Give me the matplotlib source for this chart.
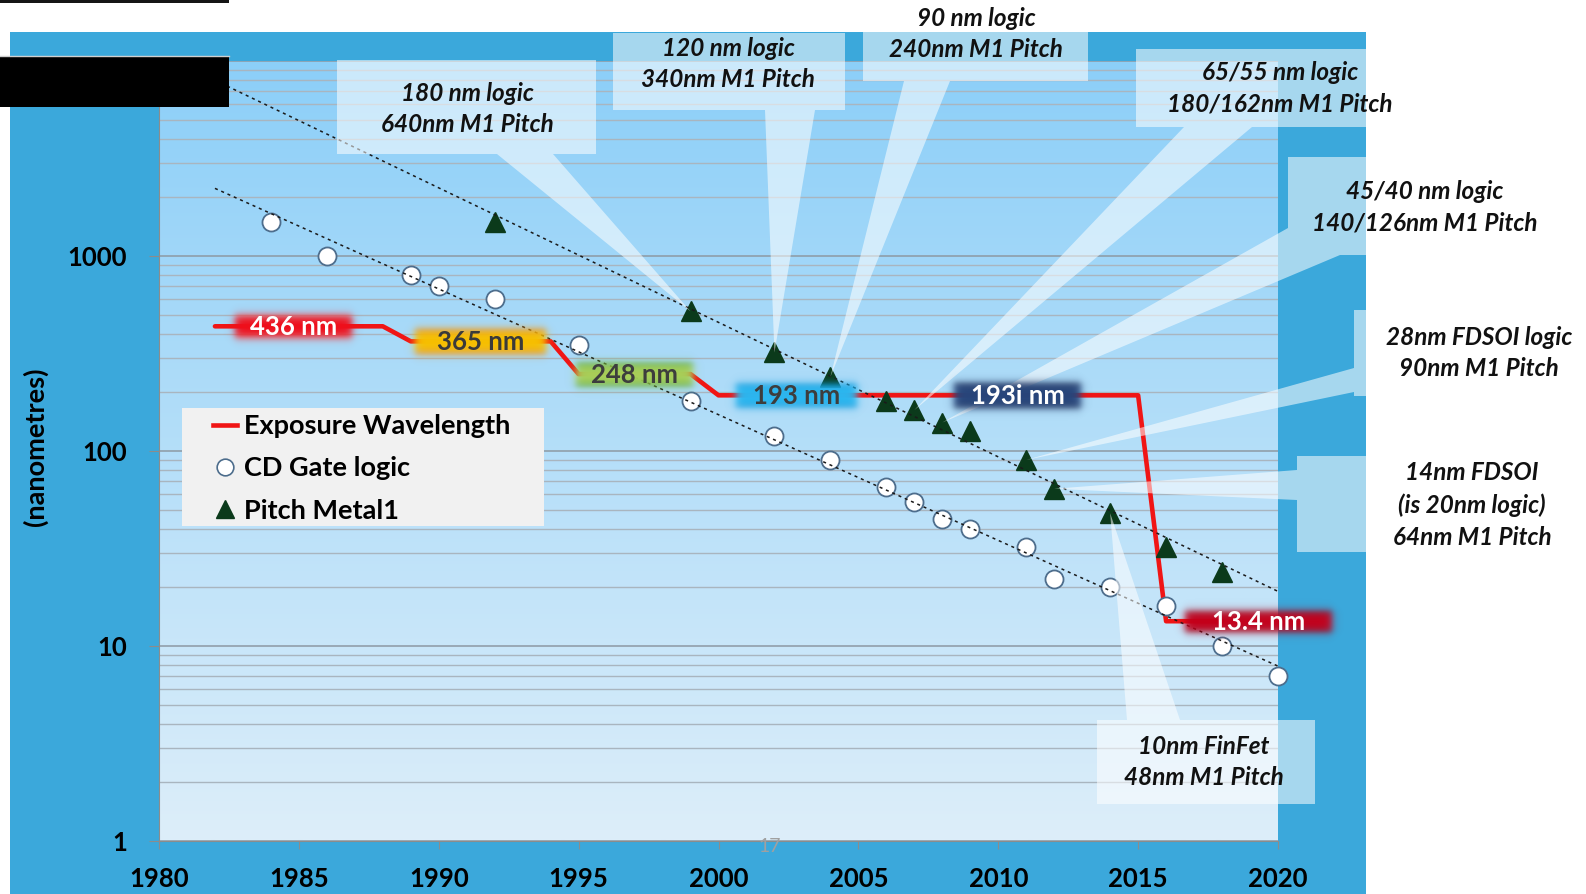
import numpy as np
import matplotlib.pyplot as plt
from matplotlib.patches import Rectangle, Polygon
from matplotlib.lines import Line2D
from matplotlib.colors import to_rgb
from matplotlib.ticker import FixedLocator, LogLocator, NullFormatter

plt.rcParams['font.family'] = ['Lato', 'DejaVu Sans']

W, H = 1586, 894

# exposure wavelength steps (nm)
years_wl = [1982, 1988, 1989, 1994, 1995, 1999, 2000, 2015, 2016, 2018]
wavelength = [436, 436, 365, 365, 248, 248, 193, 193, 13.4, 13.4]

# gate CD of logic nodes (nm)
years_cd = [1984, 1986, 1989, 1990, 1992, 1995, 1999, 2002, 2004, 2006, 2007,
            2008, 2009, 2011, 2012, 2014, 2016, 2018, 2020]
cd_gate = [1500, 1000, 800, 700, 600, 350, 180, 120, 90, 65, 55,
           45, 40, 32, 22, 20, 16, 10, 7]

# metal 1 pitch (nm)
years_m1 = [1992, 1999, 2002, 2004, 2006, 2007, 2008, 2009, 2011, 2012, 2014, 2016, 2018]
pitch_m1 = [1500, 520, 320, 240, 180, 162, 140, 126, 90, 64, 48, 32, 24]

# wavelength tags sitting on the red line
wl_names = ["436 nm", "365 nm", "248 nm", "193 nm", "193i nm", "13.4 nm"]
wl_name_year = [1984.8, 1991.5, 1997.0, 2002.8, 2010.7, 2019.3]
wl_name_value = [436, 365, 248, 193, 193, 13.4]

# node callouts, each pointing at one M1 pitch point
node_text = ["180 nm logic\n640nm M1 Pitch",
             "120 nm logic\n340nm M1 Pitch",
             "90 nm logic\n240nm M1 Pitch",
             "65/55 nm logic\n180/162nm M1 Pitch",
             "45/40 nm logic\n140/126nm M1 Pitch",
             "28nm FDSOI logic\n90nm M1 Pitch",
             "14nm FDSOI\n(is 20nm logic)\n64nm M1 Pitch",
             "10nm FinFet\n48nm M1 Pitch"]
node_year = [1999, 2002, 2004, 2007, 2008, 2011, 2012, 2014]

fig = plt.figure(figsize=(W / 100, H / 100), dpi=100)

# slide background layer in pixel units
bg = fig.add_axes([0, 0, 1, 1], zorder=0)
bg.axis('off')
bg.add_patch(Rectangle((10, 32), 1356, 862, color='#3ba8db', lw=0, zorder=0))

px0, px1, py0, py1 = 159, 1278, 61, 841
t = np.linspace(0, 1, 256)[:, None, None]
top_c = np.array(to_rgb('#8ccff8'))
bot_c = np.array(to_rgb('#ddeefa'))
grad = top_c * (1 - t) + bot_c * t
bg.imshow(grad, extent=(px0, px1, py1, py0), aspect='auto', interpolation='bilinear', zorder=1)
bg.set_xlim(0, W)
bg.set_ylim(H, 0)

ax = fig.add_axes([px0 / W, 1 - py1 / H, (px1 - px0) / W, (py1 - py0) / H], zorder=1)
ax.patch.set_visible(False)
ax.set_yscale('log')
ax.set_xlim(1980, 2020)
ax.set_ylim(1, 10000)

ax.plot(years_wl, wavelength, color='#f01515', lw=3.3, solid_capstyle='round',
        solid_joinstyle='round', zorder=4)
ax.plot(years_cd, cd_gate, 'o', ms=13, mfc='white', mec='#4d6d8c', mew=1.3, zorder=5,
        clip_on=False)
ax.plot(years_m1, pitch_m1, '^', ms=14, color='#0b3a1b', zorder=6, clip_on=False)

# exponential trendlines
cd_fit = np.polyfit(years_cd, np.log10(cd_gate), 1)
m1_fit = np.polyfit(years_m1, np.log10(pitch_m1), 1)
t_cd = np.array([1982, 2020])
t_m1 = np.array([1980, 2020])
ax.plot(t_cd, 10 ** np.polyval(cd_fit, t_cd), color='#1a1a1a', lw=1.1, ls=(0, (2, 2.5)), zorder=7)
ax.plot(t_m1, 10 ** np.polyval(m1_fit, t_m1), color='#1a1a1a', lw=1.1, ls=(0, (2, 2.5)), zorder=7)

ax.yaxis.set_major_locator(FixedLocator([1, 10, 100, 1000, 10000]))
ax.set_yticklabels(['1', '10', '100', '1000', ''], fontsize=18.5, fontweight='bold')
ax.yaxis.set_minor_locator(LogLocator(base=10, subs=np.arange(2, 10)))
ax.yaxis.set_minor_formatter(NullFormatter())
ax.set_xticks(range(1980, 2021, 5))
ax.set_xticklabels([str(y) for y in range(1980, 2021, 5)], fontsize=18.5, fontweight='bold')
ax.grid(True, axis='y', which='major', color='#8d99a3', lw=1.1)
ax.grid(True, axis='y', which='minor', color='#a9b5bf', lw=1.0)
ax.tick_params(axis='y', which='major', length=7, color='#8c8c8c', pad=16)
ax.tick_params(axis='y', which='minor', length=0)
ax.tick_params(axis='x', length=6, color='#8c8c8c', pad=13)
for s in ['top', 'right']:
    ax.spines[s].set_visible(False)
for s in ['left', 'bottom']:
    ax.spines[s].set_color('#8c8c8c')

fig.text(35 / W, 1 - 447 / H, '(nanometres)', rotation=90, ha='center', va='center',
         fontsize=19.5, fontweight='bold')
fig.text(770 / W, 1 - 846 / H, '17', ha='center', va='center', fontsize=14, color='#a0a0a0')

# overlay layer for callouts, tags and legend
ov = fig.add_axes([0, 0, 1, 1], zorder=3)
ov.axis('off')
ov.patch.set_visible(False)

# header bars in the top-left corner
ov.add_patch(Rectangle((0, 57), 229, 50, color='black', lw=0, zorder=1))
ov.add_patch(Rectangle((0, 0), 229, 2.5, color='#151515', lw=0, zorder=1))
ov.plot([0, 229], [56, 56], color='#cfcfcf', lw=1, zorder=1)


def to_px(x, y):
    dx, dy = ax.transData.transform((x, y))
    return dx, H - dy


def callout(box, side, b0, b1, tip):
    x0, y0, x1, y1 = box
    if side == 'bottom':
        pts = [(x0, y0), (x1, y0), (x1, y1), (b1, y1), tip, (b0, y1), (x0, y1)]
    elif side == 'top':
        pts = [(x0, y0), (b0, y0), tip, (b1, y0), (x1, y0), (x1, y1), (x0, y1)]
    elif side == 'left':
        pts = [(x0, y0), (x1, y0), (x1, y1), (x0, y1), (x0, b1), tip, (x0, b0)]
    else:
        pts = [(x0, y0), (x1, y0), (x1, y1), (b1, y1), tip, (x0, b0)]
    ov.add_patch(Polygon(pts, closed=True, facecolor='white', edgecolor='none',
                         alpha=0.55, zorder=2))


boxes = [(337, 60, 596, 154), (613, 33, 845, 110), (863, 32, 1088, 81),
         (1136, 49, 1390, 127), (1288, 157, 1580, 255), (1354, 310, 1580, 396),
         (1297, 456, 1580, 552), (1097, 720, 1315, 804)]
sides = ['bottom', 'bottom', 'bottom', 'bottom', 'corner', 'left', 'left', 'top']
bases = [(497, 553), (765, 815), (904, 950), (1184, 1252), (228, 1340),
         (368, 392), (470, 500), (1127, 1180)]
text_xy = [(467, 109), (728, 64), (976, 34), (1280, 88), (1425, 207),
           (1479, 353), (1472, 505), (1204, 762)]

m1_lookup = dict(zip(years_m1, pitch_m1))
for box, side, (b0, b1), yr, txt, (tx, ty) in zip(boxes, sides, bases, node_year,
                                                   node_text, text_xy):
    callout(box, side, b0, b1, to_px(yr, m1_lookup[yr]))
    ov.text(tx, ty, txt, ha='center', va='center', fontsize=17.5, fontweight='bold',
            style='italic', color='#111111', linespacing=1.47, zorder=3)


def glow(cx, cy, w, h, inner, outer, soft=4.5):
    pad = 3 * soft
    xs = np.arange(-w / 2 - pad, w / 2 + pad + 1)
    ys = np.arange(-h / 2 - pad, h / 2 + pad + 1)
    X, Y = np.meshgrid(xs, ys)
    a = 0.5 * (1 - np.tanh((np.abs(X) - w / 2) / soft)) * \
        0.5 * (1 - np.tanh((np.abs(Y) - h / 2) / soft))
    k = np.clip(np.abs(Y) / (h / 2), 0, 1) ** 2
    c_in, c_out = np.array(to_rgb(inner)), np.array(to_rgb(outer))
    rgb = c_in * (1 - k[..., None]) + c_out * k[..., None]
    img = np.dstack([rgb, a])
    ov.imshow(img, extent=(cx - w / 2 - pad, cx + w / 2 + pad, cy + h / 2 + pad, cy - h / 2 - pad),
              aspect='auto', interpolation='bilinear', zorder=5)


glow_size = [(118, 24), (132, 26), (118, 24), (122, 24), (128, 26), (148, 22)]
glow_inner = ['#ee0f1c', '#f8c200', '#a8d15a', '#2bb8f2', '#27467c', '#c4001c']
glow_outer = ['#f23a40', '#f39a12', '#6fb232', '#0d9fe0', '#1b2f5c', '#a80018']
tag_color = ['white', '#3a3a3a', '#3d3d3d', '#3d3d3d', 'white', 'white']
for name, yr, val, (gw, gh), ci, co, tc in zip(wl_names, wl_name_year, wl_name_value,
                                               glow_size, glow_inner, glow_outer, tag_color):
    cx, cy = to_px(yr, val)
    glow(cx, cy, gw, gh, ci, co)
    ov.text(cx, cy + 9, name, ha='center', va='baseline', fontsize=18.5,
            fontweight='bold', color=tc, zorder=6)

# legend with a plain grey panel
ov.add_patch(Rectangle((182, 408), 362, 118, facecolor='#f1f1f1', edgecolor='none', zorder=7))
handles = [Line2D([], [], color='#f01515', lw=3.3),
           Line2D([], [], marker='o', ls='none', ms=12, mfc='white', mec='#4d6d8c', mew=1.2),
           Line2D([], [], marker='^', ls='none', ms=13, color='#0b3a1b')]
leg = ov.legend(handles, ['Exposure Wavelength', 'CD Gate logic', 'Pitch Metal1'],
                loc='upper left', bbox_to_anchor=(213, 414), bbox_transform=ov.transData,
                frameon=False, borderpad=0, borderaxespad=0, handlelength=0.9,
                handletextpad=0.25, labelspacing=0.68,
                prop={'size': 19.5, 'weight': 'bold'})
leg.set_zorder(8)

ov.set_xlim(0, W)
ov.set_ylim(H, 0)

fig.savefig('out.png', dpi=100)
